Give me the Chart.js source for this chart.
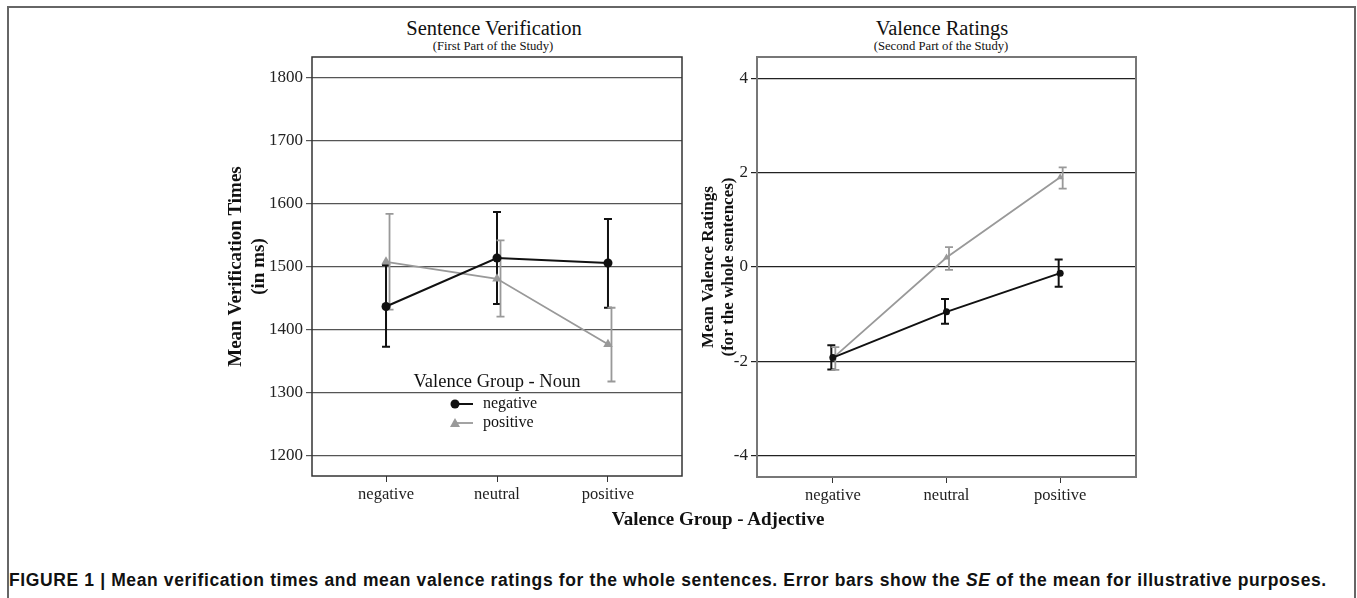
<!DOCTYPE html>
<html>
<head>
<meta charset="utf-8">
<script src="https://cdn.jsdelivr.net/npm/chart.js@4"></script>
<style>
  body { margin: 0; width: 1357px; height: 598px; background: #fff; position: relative; overflow: hidden; }
  .frame { position: absolute; left: 7px; top: 6px; width: 1345px; height: 620px; border: 2px solid #666; }
  .serif { font-family: "Liberation Serif", "Times New Roman", serif; color: #111; position: absolute; white-space: nowrap; }
  .title { font-size: 20.5px; transform: translateX(-50%); }
  .sub { font-size: 12.7px; transform: translateX(-50%); }
  #leftBox { position: absolute; left: 200px; top: 0; width: 490px; height: 510px; }
  #rightBox { position: absolute; left: 690px; top: 0; width: 470px; height: 510px; }
  .caption { position: absolute; left: 9px; top: 570px; line-height: 20px; font-family: "Liberation Sans", Arial, sans-serif; font-weight: bold; font-size: 17.5px; letter-spacing: 0.62px; color: #111; white-space: nowrap; }
</style>
</head>
<body>
<div class="frame"></div>
<div class="serif title" style="left:494px; top:17px;">Sentence Verification</div>
<div class="serif sub" style="left:493px; top:39px;">(First Part of the Study)</div>
<div class="serif title" style="left:942px; top:17px;">Valence Ratings</div>
<div class="serif sub" style="left:941px; top:39px;">(Second Part of the Study)</div>
<div id="leftBox"><canvas id="leftChart"></canvas></div>
<div id="rightBox"><canvas id="rightChart"></canvas></div>
<div class="serif" style="left:718px; top:507px; line-height:24px; transform:translateX(-50%); font-size:19px; font-weight:bold;">Valence Group - Adjective</div>
<div class="caption">FIGURE 1 | Mean verification times and mean valence ratings for the whole sentences. Error bars show the <i>SE</i> of the mean for illustrative purposes.</div>
<script>
// Kategoriler ve seriler
const categories = ['negative', 'neutral', 'positive'];
const nounGroups = ['negative', 'positive'];

// Sol grafik: doğrulama süreleri (ms)
const timesNegMean = [1437, 1514, 1506];
const timesNegLow  = [1373, 1441, 1435];
const timesNegHigh = [1503, 1587, 1576];
const timesPosMean = [1508, 1481, 1377];
const timesPosLow  = [1432, 1421, 1318];
const timesPosHigh = [1584, 1542, 1435];
const timesTicks = [1200, 1300, 1400, 1500, 1600, 1700, 1800];

// Sağ grafik: değerlik puanları
const ratingNegMean = [-1.92, -0.95, -0.13];
const ratingNegLow  = [-2.17, -1.20, -0.42];
const ratingNegHigh = [-1.66, -0.68, 0.16];
const ratingPosMean = [-1.93, 0.20, 1.90];
const ratingPosLow  = [-2.18, -0.06, 1.66];
const ratingPosHigh = [-1.70, 0.42, 2.11];
const ratingTicks = [-4, -2, 0, 2, 4];

Chart.defaults.font.family = '"Liberation Serif", "Times New Roman", serif';
Chart.defaults.color = '#222';

function toPoints(arr) {
  return arr.map(function(v, i) { return { x: i, y: v }; });
}

// Hata çubukları
const errorBars = {
  id: 'errorBars',
  beforeDatasetsDraw(chart, args, opts) {
    const ctx = chart.ctx, xs = chart.scales.x, ys = chart.scales.y;
    chart.data.datasets.forEach(function(ds) {
      const lo = ds.errLow, hi = ds.errHigh;
      ctx.save();
      ctx.strokeStyle = ds.borderColor;
      ctx.lineWidth = ds.errWidth;
      lo.forEach(function(v, i) {
        const x = xs.getPixelForValue(i) + ds.errShift;
        const y1 = ys.getPixelForValue(lo[i]), y2 = ys.getPixelForValue(hi[i]);
        ctx.beginPath();
        ctx.moveTo(x, y1); ctx.lineTo(x, y2);
        ctx.moveTo(x - opts.cap, y1); ctx.lineTo(x + opts.cap, y1);
        ctx.moveTo(x - opts.cap, y2); ctx.lineTo(x + opts.cap, y2);
        ctx.stroke();
      });
      ctx.restore();
    });
  }
};

// Çizim alanı çerçevesi
const plotFrame = {
  id: 'plotFrame',
  afterDraw(chart, args, opts) {
    const a = chart.chartArea, ctx = chart.ctx;
    ctx.save();
    ctx.strokeStyle = opts.color;
    ctx.lineWidth = opts.width;
    ctx.strokeRect(a.left, a.top, a.right - a.left, a.bottom - a.top);
    ctx.restore();
  }
};

// Sol grafik içindeki lejant
const innerLegend = {
  id: 'innerLegend',
  afterDraw(chart, args, opts) {
    if (!opts.show) return;
    const ctx = chart.ctx;
    ctx.save();
    ctx.fillStyle = '#111';
    ctx.font = '18.5px "Liberation Serif", serif';
    ctx.textAlign = 'center';
    ctx.textBaseline = 'middle';
    ctx.fillText(opts.title, 297, 382);
    ctx.font = '16px "Liberation Serif", serif';
    ctx.textAlign = 'left';
    chart.data.datasets.forEach(function(ds, i) {
      const y = 404 + i * 19;
      ctx.strokeStyle = ds.borderColor;
      ctx.lineWidth = ds.borderWidth;
      ctx.beginPath(); ctx.moveTo(254, y); ctx.lineTo(273, y); ctx.stroke();
      ctx.fillStyle = ds.pointBackgroundColor;
      ctx.beginPath();
      if (ds.pointStyle === 'triangle') {
        ctx.moveTo(255, y - 5); ctx.lineTo(260, y + 4); ctx.lineTo(250, y + 4);
      } else {
        ctx.arc(255, y, 4.5, 0, Math.PI * 2);
      }
      ctx.fill();
      ctx.fillStyle = '#111';
      ctx.fillText(ds.label, 283, y);
    });
    ctx.restore();
  }
};

function makeChart(id, cfg) {
  const datasets = [
    {
      label: nounGroups[0], data: toPoints(cfg.negMean), errLow: cfg.negLow, errHigh: cfg.negHigh,
      borderColor: '#111', backgroundColor: '#111', pointBackgroundColor: '#111', borderWidth: 2,
      pointStyle: 'circle', pointRadius: cfg.dot, pointBorderWidth: 0, errWidth: 2, errShift: cfg.shiftNeg
    },
    {
      label: nounGroups[1], data: toPoints(cfg.posMean), errLow: cfg.posLow, errHigh: cfg.posHigh,
      borderColor: '#999', backgroundColor: '#999', pointBackgroundColor: '#999', borderWidth: 1.8,
      pointStyle: 'triangle', pointRadius: cfg.tri, pointBorderWidth: 0, errWidth: 1.8, errShift: cfg.shiftPos
    }
  ];
  return new Chart(document.getElementById(id), {
    type: 'line',
    data: { datasets: datasets },
    plugins: [errorBars, plotFrame, innerLegend],
    options: {
      responsive: true,
      maintainAspectRatio: false,
      animation: false,
      layout: { padding: { left: 0, right: cfg.padRight, top: 57, bottom: 0 } },
      plugins: {
        legend: { display: false },
        tooltip: { enabled: false },
        errorBars: { cap: 4 },
        plotFrame: { color: cfg.frameColor, width: cfg.frameWidth },
        innerLegend: { show: cfg.legend, title: 'Valence Group - Noun' }
      },
      scales: {
        x: {
          type: 'linear', min: -0.667, max: 2.667,
          afterBuildTicks: function(s) { s.ticks = categories.map(function(c, i) { return { value: i }; }); },
          afterFit: function(s) { s.height = cfg.xHeight; },
          grid: { drawOnChartArea: false, tickLength: 6, color: '#333' },
          border: { display: false },
          ticks: { callback: function(v) { return categories[v]; }, padding: 3, maxRotation: 0, font: { size: 16.5 }, color: '#222' }
        },
        y: {
          min: cfg.yMin, max: cfg.yMax,
          afterBuildTicks: function(s) { s.ticks = cfg.ticks.map(function(v) { return { value: v }; }); },
          afterFit: function(s) { s.width = cfg.yWidth; },
          grid: { color: cfg.gridColor, lineWidth: 1.2, tickLength: 6 },
          border: { display: false },
          ticks: { callback: function(v) { return String(v); }, padding: 3, font: { size: 17 }, color: '#222' },
          title: {
            display: true, text: cfg.yTitle, color: '#111',
            font: { size: cfg.titleSize, weight: 'bold', lineHeight: 1.2 },
            padding: { top: cfg.titlePad, bottom: 0 }
          }
        }
      }
    }
  });
}

makeChart('leftChart', {
  negMean: timesNegMean, negLow: timesNegLow, negHigh: timesNegHigh,
  posMean: timesPosMean, posLow: timesPosLow, posHigh: timesPosHigh,
  ticks: timesTicks, yMin: 1168, yMax: 1833,
  yTitle: ['Mean Verification Times', '(in ms)'], titleSize: 19, titlePad: 25,
  yWidth: 112, xHeight: 34, padRight: 8,
  gridColor: '#555', frameColor: '#333', frameWidth: 1.5,
  dot: 4.5, tri: 5.5, shiftNeg: 0, shiftPos: 3.5, legend: true
});

makeChart('rightChart', {
  negMean: ratingNegMean, negLow: ratingNegLow, negHigh: ratingNegHigh,
  posMean: ratingPosMean, posLow: ratingPosLow, posHigh: ratingPosHigh,
  ticks: ratingTicks, yMin: -4.45, yMax: 4.45,
  yTitle: ['Mean Valence Ratings', '(for the whole sentences)'], titleSize: 17, titlePad: 8,
  yWidth: 67, xHeight: 33, padRight: 24,
  gridColor: '#222', frameColor: '#777', frameWidth: 2,
  dot: 3.5, tri: 4, shiftNeg: -1.5, shiftPos: 2.5, legend: false
});
</script>
</body>
</html>
